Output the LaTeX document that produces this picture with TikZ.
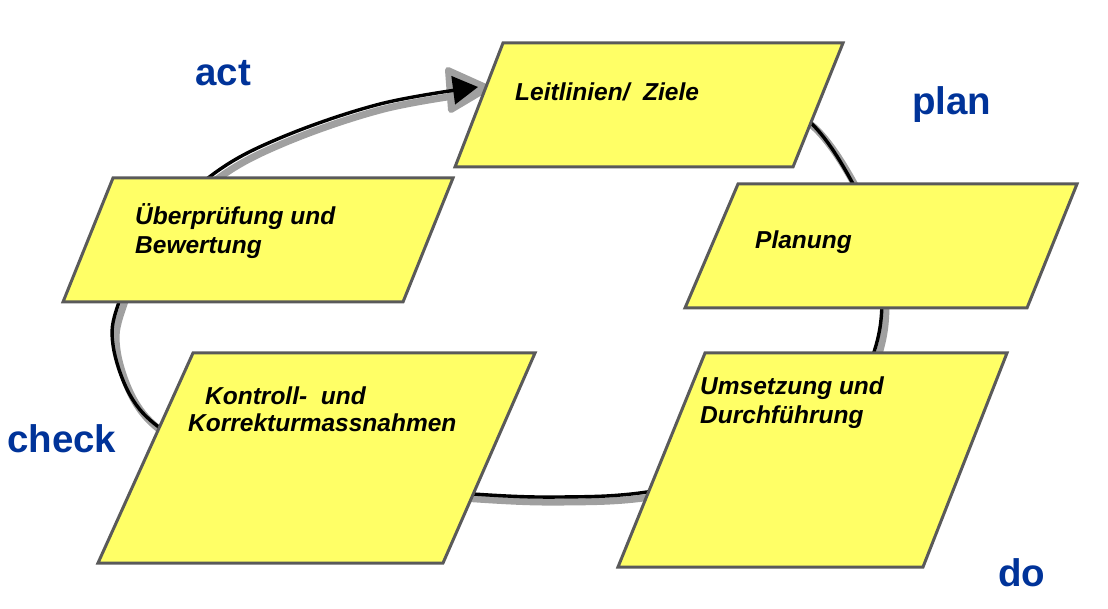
\documentclass[tikz,border=0pt]{standalone}
\usepackage{fontspec}
\setmainfont{Liberation Sans}
\usetikzlibrary{arrows.meta}
\definecolor{boxfill}{RGB}{255,255,102}
\definecolor{boxline}{RGB}{90,90,90}
\definecolor{lblblue}{RGB}{0,51,153}
\definecolor{shadegray}{RGB}{160,160,160}
\begin{document}
\begin{tikzpicture}[x=1pt,y=-1pt,
  box/.style={draw=boxline, fill=boxfill, line width=3pt, line join=miter},
  txt/.style={font=\fontsize{24.5}{29}\selectfont\bfseries\itshape, anchor=base west, inner sep=0pt},
  lbl/.style={font=\fontsize{38.5}{45}\selectfont\bfseries, text=lblblue, anchor=base west, inner sep=0pt},
  cyc/.style={line width=3.4pt, draw=black, line cap=round, line join=round},
  cycshadow/.style={line width=7pt, draw=shadegray, line cap=round, line join=round},
]
\useasboundingbox (0,0) rectangle (1108,609);

% cycle path coordinates
\def\cyclepts{(760,92) (812,124) (852,182) (875,240) (882,300) (874,352) (845,415) (760,468) (647,492) (560,497) (473,494) (330,482) (215,458) (160,428) (130,395) (113,345) (118,305) (150,235) (212,175) (280,138) (380,104) (478,87)}

% shadow of the cycle and halo of the arrow head
\begin{scope}[shift={(4,5)}]
  \draw[cycshadow] plot[smooth,tension=0.6] coordinates {\cyclepts};
\end{scope}
\coordinate (hA) at (488,88);
\coordinate (hB) at (448,70);
\coordinate (hC) at (451,110);
\filldraw[shadegray, line width=6pt, line join=round] (hA) -- (hB) -- (hC) -- cycle;

\draw[cyc,-{Triangle[length=25pt,width=28pt]}] plot[smooth,tension=0.6] coordinates {\cyclepts};

% boxes
\draw[box] (503,43) coordinate (b1tl) -- (843,43) coordinate (b1tr) -- (793,167) coordinate (b1br) -- (455,167) coordinate (b1bl) -- cycle;
\draw[box] (738,184) coordinate (b2tl) -- (1077,184) coordinate (b2tr) -- (1027,308) coordinate (b2br) -- (685,308) coordinate (b2bl) -- cycle;
\draw[box] (113,178) coordinate (b3tl) -- (453,178) coordinate (b3tr) -- (403,302) coordinate (b3br) -- (63,302) coordinate (b3bl) -- cycle;
\draw[box] (193,353) coordinate (b4tl) -- (535,353) coordinate (b4tr) -- (443,563) coordinate (b4br) -- (98,563) coordinate (b4bl) -- cycle;
\draw[box] (705,353) coordinate (b5tl) -- (1007,353) coordinate (b5tr) -- (923,567) coordinate (b5br) -- (618,567) coordinate (b5bl) -- cycle;

% box texts
\node[txt] (t1) at (515,101) {Leitlinien/~~Ziele};
\node[txt] (t2) at (755,249) {Planung};
\node[txt] (t3a) at (135,225) {Überprüfung und};
\node[txt] (t3b) at (135,254) {Bewertung};
\node[txt] (t4a) at (205,404) {Kontroll-~~und};
\node[txt] (t4b) at (188,431) {Korrekturmassnahmen};
\node[txt] (t5a) at (700,395) {Umsetzung und};
\node[txt] (t5b) at (700,423) {Durchführung};

% labels
\node[lbl] (act) at (195,86) {act};
\node[lbl] (plan) at (912,115) {plan};
\node[lbl] (check) at (7,452) {check};
\node[lbl] (do) at (998,586) {do};
\end{tikzpicture}
\end{document}
